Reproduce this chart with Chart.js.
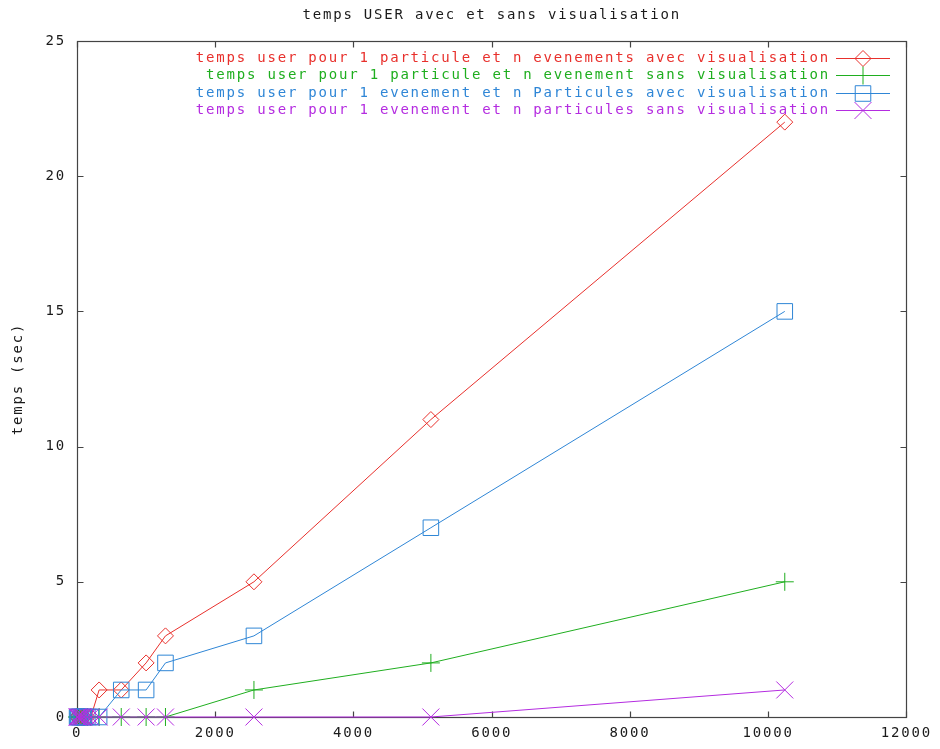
<!DOCTYPE html>
<html>
<head>
<meta charset="utf-8">
<script src="https://cdn.jsdelivr.net/npm/chart.js@4/dist/chart.umd.min.js"></script>
<style>
  html, body { margin: 0; padding: 0; background: #ffffff; }
  #wrap { width: 940px; height: 749px; }
</style>
</head>
<body>
<div id="wrap"><canvas id="c" width="940" height="749"></canvas></div>
<script>
// Temps USER (secondes) en fonction du nombre n d'evenements / de particules
const chartTitle = 'temps USER avec et sans visualisation';
const yAxisTitle = 'temps (sec)';

const nValues = [1, 10, 20, 40, 60, 80, 100, 150, 200, 320, 640, 1000, 1280, 2560, 5120, 10240];

const userParticuleAvec = [0, 0, 0, 0, 0, 0, 0, 0, 0, 1, 1, 2, 3, 5, 11, 22];
const userParticuleSans = [0, 0, 0, 0, 0, 0, 0, 0, 0, 0, 0, 0, 0, 1, 2, 5];
const userEvenementAvec = [0, 0, 0, 0, 0, 0, 0, 0, 0, 0, 1, 1, 2, 3, 7, 15];
const userEvenementSans = [0, 0, 0, 0, 0, 0, 0, 0, 0, 0, 0, 0, 0, 0, 0, 1];

const seriesLabels = [
  'temps user pour 1 particule et n evenements avec visualisation',
  'temps user pour 1 particule et n evenement sans visualisation',
  'temps user pour 1 evenement et n Particules avec visualisation',
  'temps user pour 1 evenement et n particules sans visualisation'
];

const xTicks = [0, 2000, 4000, 6000, 8000, 10000, 12000];
const yTicks = [0, 5, 10, 15, 20, 25];

const colors = ['#e8302c', '#1fae1f', '#2f86d6', '#b42ce0'];
const markers = [
  { style: 'rectRot', radius: 8 },
  { style: 'cross', radius: 9 },
  { style: 'rect', radius: 11 },
  { style: 'crossRot', radius: 12 }
];

const FONT_FAMILY = '"DejaVu Sans Mono", "Liberation Mono", monospace';
const FONT_SIZE = 14;
const LETTER_SPACING = '1.8px';
const TEXT_COLOR = '#1a1a1a';

function toPoints(values) {
  return nValues.map((n, i) => ({ x: n, y: values[i] }));
}

const seriesValues = [userParticuleAvec, userParticuleSans, userEvenementAvec, userEvenementSans];

const datasets = seriesValues.map((vals, i) => ({
  label: seriesLabels[i],
  data: toPoints(vals),
  showLine: true,
  borderColor: colors[i],
  backgroundColor: 'rgba(0,0,0,0)',
  borderWidth: 1,
  tension: 0,
  pointStyle: markers[i].style,
  pointRadius: markers[i].radius,
  pointHoverRadius: markers[i].radius,
  pointBorderWidth: 1,
  pointBorderColor: colors[i],
  pointBackgroundColor: 'rgba(0,0,0,0)',
  clip: false,
  order: 4 - i
}));

// Marker drawing for the key samples (same geometry as the chart points)
function drawMarker(ctx, style, r, x, y) {
  ctx.beginPath();
  if (style === 'rectRot') {
    ctx.moveTo(x - r, y); ctx.lineTo(x, y - r); ctx.lineTo(x + r, y); ctx.lineTo(x, y + r); ctx.closePath();
  } else if (style === 'rect') {
    const s = Math.SQRT1_2 * r;
    ctx.rect(x - s, y - s, 2 * s, 2 * s);
  } else if (style === 'cross') {
    ctx.moveTo(x - r, y); ctx.lineTo(x + r, y); ctx.moveTo(x, y - r); ctx.lineTo(x, y + r);
  } else if (style === 'crossRot') {
    const d = Math.SQRT1_2 * r;
    ctx.moveTo(x - d, y - d); ctx.lineTo(x + d, y + d); ctx.moveTo(x - d, y + d); ctx.lineTo(x + d, y - d);
  }
  ctx.stroke();
}

const framePlugin = {
  id: 'frame',
  beforeUpdate(chart) {
    chart.ctx.letterSpacing = LETTER_SPACING;
  },
  beforeDatasetsDraw(chart) {
    const { ctx, chartArea: a, scales } = chart;
    ctx.save();
    ctx.strokeStyle = '#444444';
    ctx.lineWidth = 1.2;
    const L = Math.round(a.left) + 0.5, R = Math.round(a.right) + 0.5;
    const T = Math.round(a.top) + 0.5, B = Math.round(a.bottom) + 0.5;
    ctx.strokeRect(L, T, R - L, B - T);
    const tl = 6;
    ctx.beginPath();
    xTicks.forEach(v => {
      const px = Math.round(scales.x.getPixelForValue(v)) + 0.5;
      ctx.moveTo(px, B); ctx.lineTo(px, B - tl);
      ctx.moveTo(px, T); ctx.lineTo(px, T + tl);
    });
    yTicks.forEach(v => {
      const py = Math.round(scales.y.getPixelForValue(v)) + 0.5;
      ctx.moveTo(L, py); ctx.lineTo(L + tl, py);
      ctx.moveTo(R, py); ctx.lineTo(R - tl, py);
    });
    ctx.stroke();
    ctx.restore();
  },
  afterDraw(chart) {
    const { ctx, chartArea: a } = chart;
    ctx.save();
    ctx.letterSpacing = LETTER_SPACING;
    ctx.font = FONT_SIZE + 'px ' + FONT_FAMILY;
    ctx.textBaseline = 'middle';

    // title
    ctx.fillStyle = TEXT_COLOR;
    ctx.textAlign = 'center';
    ctx.fillText(chartTitle, (a.left + a.right) / 2, 15);

    // key, top right inside the frame
    const textRight = 830;
    const lineX0 = 836, lineX1 = 890, markX = 863;
    seriesLabels.forEach((lab, i) => {
      const y = Math.round(57.5 + i * 17.6) + 0.5;
      ctx.fillStyle = colors[i];
      ctx.textAlign = 'right';
      ctx.fillText(lab, textRight, y);
      ctx.strokeStyle = colors[i];
      ctx.lineWidth = 1;
      ctx.beginPath();
      ctx.moveTo(lineX0, y);
      ctx.lineTo(lineX1, y);
      ctx.stroke();
      drawMarker(ctx, markers[i].style, markers[i].radius, markX, y);
    });
    ctx.restore();
  }
};

const tickFont = { family: FONT_FAMILY, size: FONT_SIZE };

new Chart(document.getElementById('c'), {
  type: 'scatter',
  data: { datasets },
  plugins: [framePlugin],
  options: {
    responsive: false,
    animation: false,
    devicePixelRatio: 1,
    layout: { padding: { top: 41, right: 32, left: 0, bottom: 0 } },
    plugins: {
      legend: { display: false },
      title: { display: false },
      tooltip: { enabled: false }
    },
    scales: {
      x: {
        type: 'linear',
        min: 0,
        max: 12000,
        afterBuildTicks: s => { s.ticks = xTicks.map(v => ({ value: v })); },
        afterFit: s => { s.height = 32; },
        grid: { display: false, drawTicks: false },
        border: { display: false },
        ticks: {
          font: tickFont, color: TEXT_COLOR, padding: 8, maxRotation: 0, autoSkip: false,
          callback: v => String(v)
        }
      },
      y: {
        type: 'linear',
        min: 0,
        max: 25,
        afterBuildTicks: s => { s.ticks = yTicks.map(v => ({ value: v })); },
        afterFit: s => { s.width = 77; },
        grid: { display: false, drawTicks: false },
        border: { display: false },
        ticks: {
          font: tickFont, color: TEXT_COLOR, padding: 11, autoSkip: false,
          callback: v => String(v)
        },
        title: {
          display: true,
          text: yAxisTitle,
          font: tickFont,
          color: TEXT_COLOR,
          padding: { top: 10, bottom: 0 }
        }
      }
    }
  }
});
</script>
</body>
</html>
